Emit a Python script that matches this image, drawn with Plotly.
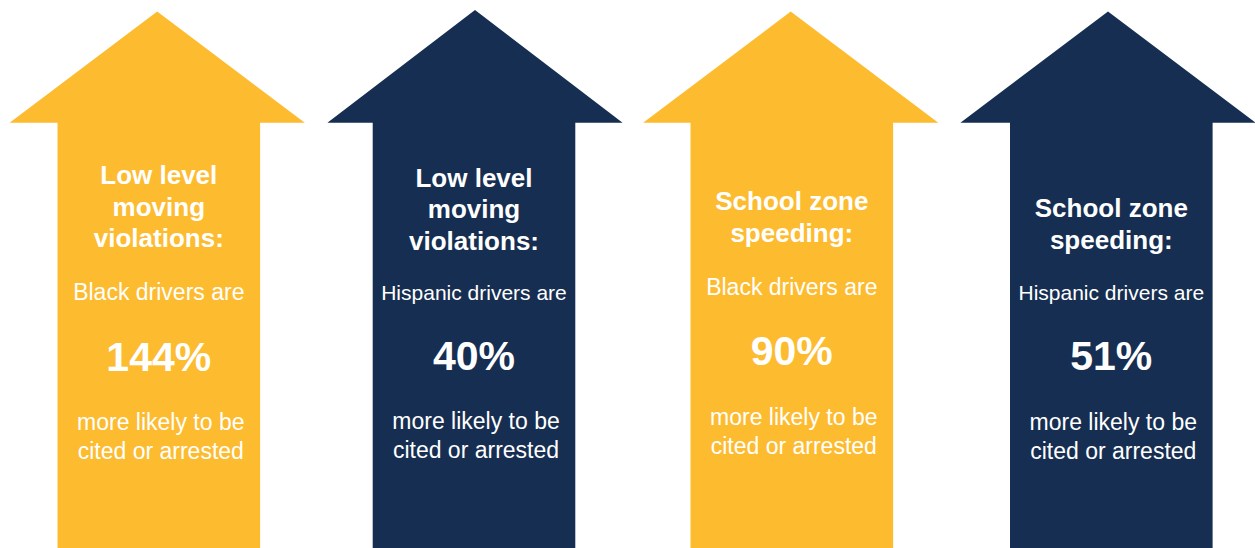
import plotly.graph_objects as go

# ---- data ----
violation_titles = [
    ["Low level", "moving", "violations:"],
    ["Low level", "moving", "violations:"],
    ["School zone", "speeding:"],
    ["School zone", "speeding:"],
]
driver_groups = ["Black drivers are", "Hispanic drivers are", "Black drivers are", "Hispanic drivers are"]
pct_more_likely = [144, 40, 90, 51]
outcome_lines = ["more likely to be", "cited or arrested"]
arrow_colors = ["#FDBB30", "#162E51", "#FDBB30", "#162E51"]

# ---- layout constants (pixels of the 1255x548 canvas) ----
W, H = 1255, 548
head_centers = [157.2, 475.0, 790.7, 1108.0]
shaft_centers = [158.8, 474.0, 791.8, 1111.3]
head_half = 147.6
shaft_half = 101.3
tip_y = [11.5, 10.0, 11.5, 11.5]
head_base_y = 122.8
bottom_y = 560

SHIFT = 2.5
title_base = [184.3, 186.7, 210.0, 217.3]
title_step = 31.6
group_base = [300.0, 300.0, 295.0, 300.0]
pct_base = [372.7, 371.7, 366.7, 371.7]
more_base = [430.0, 429.0, 425.0, 430.0]
cited_step = 28.6

FONT = "Liberation Sans, Arial, sans-serif"
fs_title, fs_body, fs_hisp, fs_pct = 26, 23, 21, 41
CAP = 0.35  # plotly middle-anchor baseline shift (em)

fig = go.Figure()

for i in range(4):
    hc, sc = head_centers[i], shaft_centers[i]
    xs = [hc, hc + head_half, sc + shaft_half, sc + shaft_half,
          sc - shaft_half, sc - shaft_half, hc - head_half, hc]
    ys = [tip_y[i], head_base_y, head_base_y, bottom_y,
          bottom_y, head_base_y, head_base_y, tip_y[i]]
    fig.add_trace(go.Scatter(x=xs, y=ys, mode="lines", fill="toself",
                             fillcolor=arrow_colors[i], line=dict(width=0),
                             hoverinfo="skip", showlegend=False))

def add_text(x, baseline, text, size, bold):
    fig.add_trace(go.Scatter(
        x=[x], y=[baseline + SHIFT - CAP * size], mode="text", text=[text],
        textposition="middle center",
        textfont=dict(family=FONT, size=size, color="white",
                      weight="bold" if bold else "normal"),
        hoverinfo="skip", showlegend=False))

for i in range(4):
    cx = shaft_centers[i]
    for j, line in enumerate(violation_titles[i]):
        add_text(cx, title_base[i] + j * title_step, line, fs_title, True)
    gsize = fs_hisp if driver_groups[i].startswith("Hispanic") else fs_body
    add_text(cx, group_base[i], driver_groups[i], gsize, False)
    add_text(cx, pct_base[i], f"{pct_more_likely[i]}%", fs_pct, True)
    for j, line in enumerate(outcome_lines):
        add_text(cx + 2, more_base[i] + j * cited_step, line, fs_body, False)

fig.update_layout(
    width=W, height=H,
    margin=dict(l=0, r=0, t=0, b=0),
    paper_bgcolor="white", plot_bgcolor="white",
    xaxis=dict(range=[0, W], visible=False, fixedrange=True),
    yaxis=dict(range=[H, 0], visible=False, fixedrange=True),
    showlegend=False,
)

fig.write_html(
    "out.html",
    config={"displayModeBar": False},
    post_script="document.body.style.margin='0';document.body.style.padding='0';document.body.style.overflow='hidden';",
)
